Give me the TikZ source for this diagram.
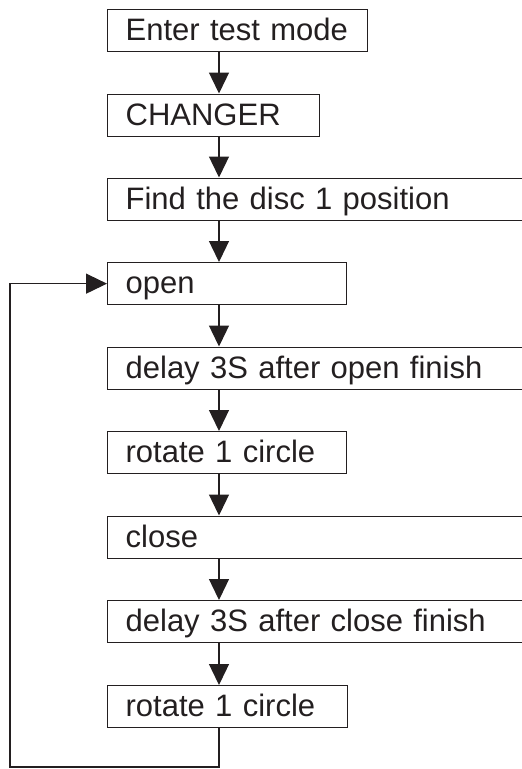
\documentclass[tikz,border=0pt]{standalone}
\usepackage{fontspec}
\setmainfont{Liberation Sans}
\usetikzlibrary{arrows.meta}
\definecolor{ink}{HTML}{231F20}
\begin{document}
\begin{tikzpicture}[x=1pt,y=-1pt,
  stepbox/.style={draw=ink, line width=1.3pt, rectangle, anchor=north west,
    minimum height=42pt, inner xsep=18pt, inner ysep=0pt, align=left,
    text height=25pt, text depth=5pt, font=\fontsize{31}{33}\selectfont, text=ink},
  flow/.style={draw=ink, line width=1.3pt, -{Triangle[width=20pt,length=21pt]}}]
\useasboundingbox (0,0) rectangle (522,769);

\node[stepbox, text width=224pt] (s1) at (107,8.5) {Enter test mode};
\node[stepbox, text width=176pt] (s2) at (107,93.5) {CHANGER};
\node[stepbox, text width=380pt] (s3) at (107,177.5) {Find the disc 1 position};
\node[stepbox, text width=203pt] (s4) at (107,262) {open};
\node[stepbox, text width=380pt] (s5) at (107,346.5) {delay 3S after open finish};
\node[stepbox, text width=203pt] (s6) at (107,431) {rotate 1 circle};
\node[stepbox, text width=380pt] (s7) at (107,515.5) {close};
\node[stepbox, text width=380pt] (s8) at (107,600) {delay 3S after close finish};
\node[stepbox, text width=204pt] (s9) at (107,685) {rotate 1 circle};

\coordinate (c1) at (219,767);
\coordinate (c2) at (10,767);

\draw[flow] (s1.south -| c1) -- (s2.north -| c1);
\draw[flow] (s2.south -| c1) -- (s3.north -| c1);
\draw[flow] (s3.south -| c1) -- (s4.north -| c1);
\draw[flow] (s4.south -| c1) -- (s5.north -| c1);
\draw[flow] (s5.south -| c1) -- (s6.north -| c1);
\draw[flow] (s6.south -| c1) -- (s7.north -| c1);
\draw[flow] (s7.south -| c1) -- (s8.north -| c1);
\draw[flow] (s8.south -| c1) -- (s9.north -| c1);
\draw[flow] (s9.south -| c1) -- (c1) -- (c2) |- (s4.west);
\end{tikzpicture}
\end{document}
